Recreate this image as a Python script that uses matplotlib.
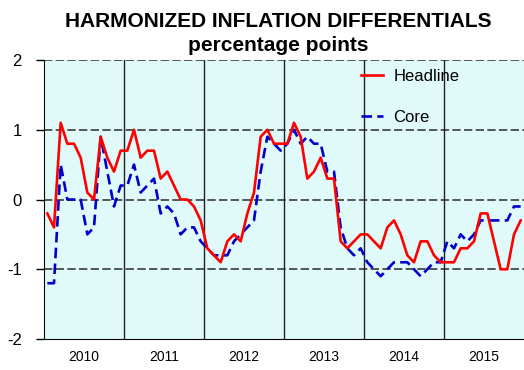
import matplotlib
matplotlib.use("Agg")
import matplotlib.pyplot as plt
import numpy as np

plt.rcParams['font.family'] = ['Liberation Sans', 'DejaVu Sans']

years = ['2010', '2011', '2012', '2013', '2014', '2015']

# Monthly differentials, Jan 2010 - Dec 2015 (percentage points)
headline = [-0.2, -0.4, 1.1, 0.8, 0.8, 0.6, 0.1, 0.0, 0.9, 0.6, 0.4, 0.7,
            0.7, 1.0, 0.6, 0.7, 0.7, 0.3, 0.4, 0.2, 0.0, 0.0, -0.1, -0.3,
            -0.7, -0.8, -0.9, -0.6, -0.5, -0.6, -0.2, 0.1, 0.9, 1.0, 0.8, 0.8,
            0.8, 1.1, 0.9, 0.3, 0.4, 0.6, 0.3, 0.3, -0.6, -0.7, -0.6, -0.5,
            -0.5, -0.6, -0.7, -0.4, -0.3, -0.5, -0.8, -0.9, -0.6, -0.6, -0.8, -0.9,
            -0.9, -0.9, -0.7, -0.7, -0.6, -0.2, -0.2, -0.6, -1.0, -1.0, -0.5, -0.3]

core = [-1.2, -1.2, 0.5, 0.0, 0.0, 0.0, -0.5, -0.4, 0.9, 0.4, -0.1, 0.2,
        0.2, 0.5, 0.1, 0.2, 0.3, -0.2, -0.1, -0.2, -0.5, -0.4, -0.4, -0.6,
        -0.7, -0.8, -0.8, -0.8, -0.6, -0.5, -0.4, -0.3, 0.4, 0.9, 0.8, 0.7,
        0.8, 1.0, 0.8, 0.9, 0.8, 0.8, 0.4, 0.4, -0.4, -0.7, -0.8, -0.7,
        -0.9, -1.0, -1.1, -1.0, -0.9, -0.9, -0.9, -1.0, -1.1, -1.0, -0.9, -0.9,
        -0.6, -0.7, -0.5, -0.6, -0.5, -0.3, -0.3, -0.3, -0.3, -0.3, -0.1, -0.1]

yticks = [2, 1, 0, -1, -2]

n_months = len(headline)
x = np.arange(n_months) + 0.5  # mid-month positions

fig = plt.figure(figsize=(5.24, 3.70), dpi=100)
ax = fig.add_axes([44 / 524, 31 / 370, 480 / 524, 279 / 370])
ax.set_facecolor('#E0FAFA')

ax.set_xlim(0, 12 * len(years))
ax.set_ylim(-2, 2)

# horizontal reference lines
for v in yticks[:-1]:
    ax.axhline(v, color='#3a3a3a', lw=1.2, ls=(0, (5, 2)), zorder=1)
# year separators
for k in range(1, len(years)):
    ax.axvline(12 * k, color='#222222', lw=1.0, zorder=1)

ax.plot(x, headline, color='#FF0000', lw=1.9, label='Headline', zorder=3)
ax.plot(x, core, color='#0000CC', lw=1.9, ls=(0, (4, 2)), label='Core', zorder=2)

ax.set_yticks(yticks)
ax.set_yticklabels([str(v) for v in yticks], fontsize=12)
ax.tick_params(axis='y', direction='out', length=6, width=1, pad=10)

ax.set_xticks([12 * k + 6 for k in range(len(years))])
ax.set_xticklabels(years, fontsize=10)
ax.tick_params(axis='x', length=0, pad=8)

for side in ['top', 'right']:
    ax.spines[side].set_visible(False)
ax.spines['left'].set_color('black')
ax.spines['bottom'].set_color('black')

fig.text(0.531, 0.941, 'HARMONIZED INFLATION DIFFERENTIALS', ha='center', va='center',
         fontsize=15, fontweight='bold')
fig.text(0.531, 0.878, 'percentage points', ha='center', va='center',
         fontsize=15, fontweight='bold')

ax.legend(loc='upper left', bbox_to_anchor=(0.636, 1.009), frameon=False, fontsize=12,
          handlelength=1.35, handletextpad=0.6, labelspacing=1.55, borderaxespad=0.3)

fig.savefig('out.png', dpi=100)
